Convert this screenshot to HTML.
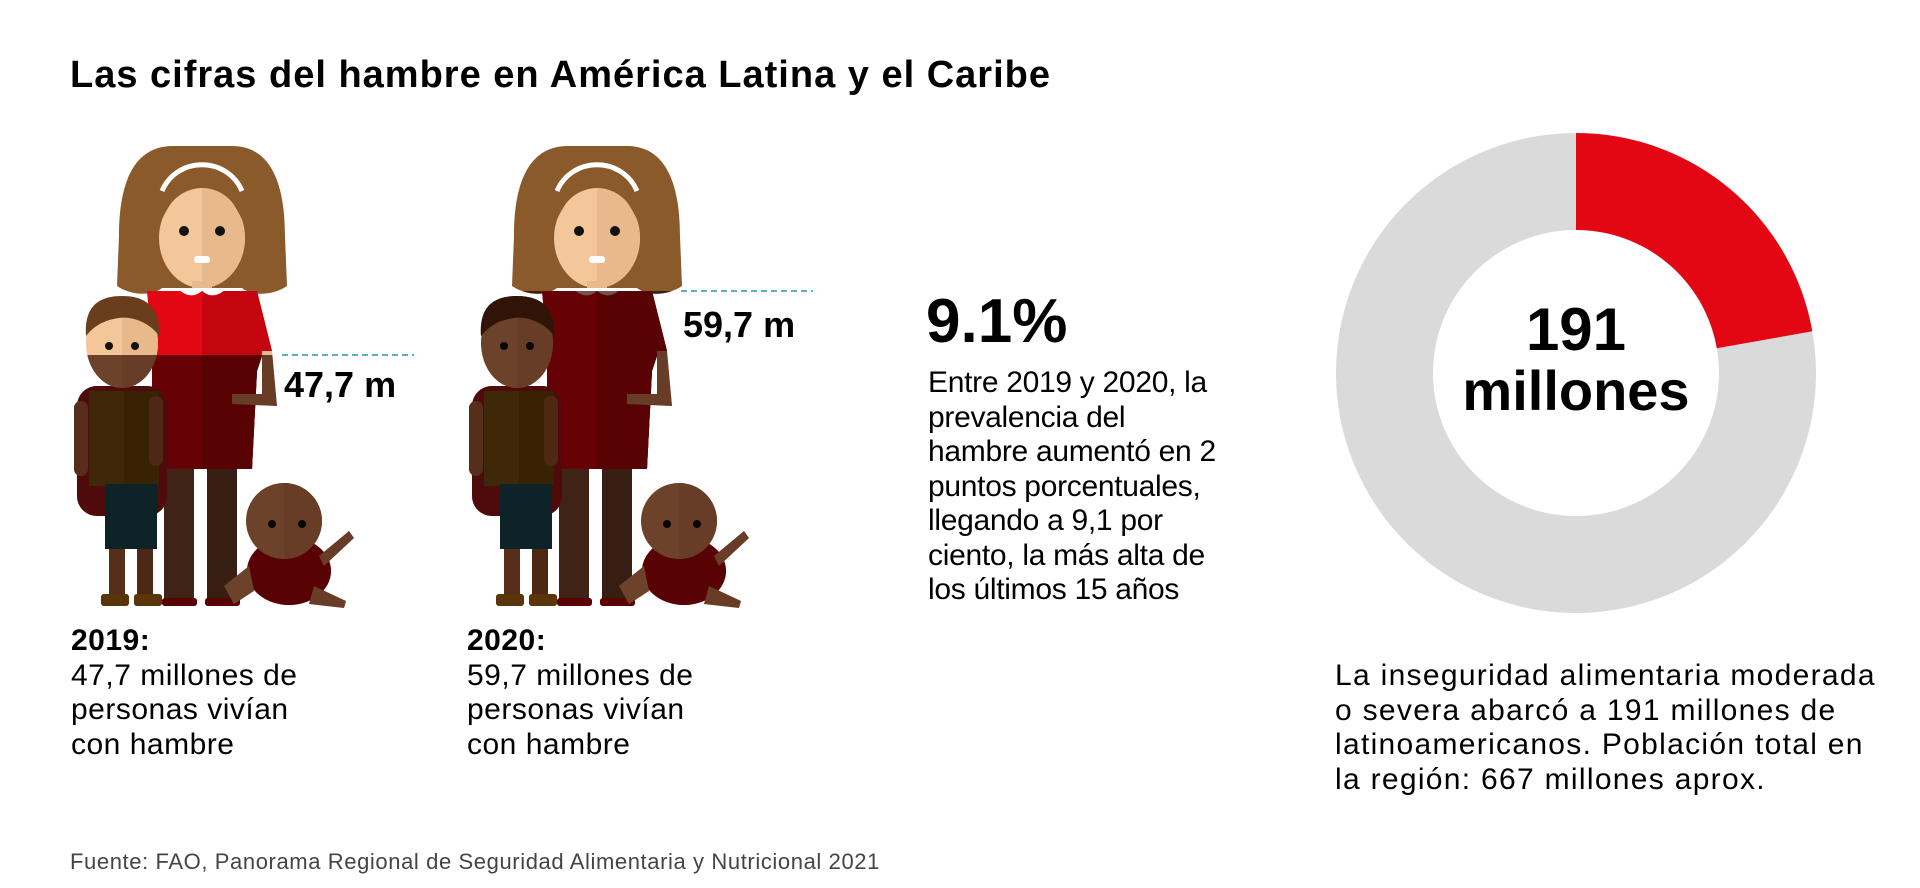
<!DOCTYPE html>
<html><head><meta charset="utf-8"><style>
html,body{margin:0;padding:0;background:#fff;}
body{width:1920px;height:888px;position:relative;overflow:hidden;font-family:"Liberation Sans",sans-serif;color:#000;}
.t{position:absolute;white-space:nowrap;}
.p{font-size:30px;line-height:34.5px;}
</style></head><body>
<div class="t" style="left:70px;top:54px;font-size:38px;font-weight:bold;letter-spacing:1px;">Las cifras del hambre en América Latina y el Caribe</div>

<svg width="1920" height="888" style="position:absolute;left:0;top:0">
<defs>
<g id="fig">
 <path d="M51,0 C10,0 -3,40 -3,90 L-5,140 C10,150 30,150 40,142 L120,142 C130,150 150,150 165,140 L163,90 C163,40 150,0 110,0 Z" fill="#8a5a2b"/>
 <ellipse cx="80" cy="92" rx="43" ry="50" fill="#f3c79a"/>
 <path d="M80,42 A43,50 0 0 1 80,142 Z" fill="#e8b98a"/>
 <path d="M37,80 C40,30 60,15 80,15 C100,15 120,30 123,80 C110,50 95,35 80,35 C65,35 50,50 37,80Z" fill="#8a5a2b"/>
 <path d="M40,45 C55,10 105,10 120,45" stroke="#fff" stroke-width="5" fill="none"/>
 <circle cx="62" cy="85" r="5" fill="#111"/><circle cx="98" cy="85" r="5" fill="#111"/>
 <rect x="72" y="110" width="16" height="7" rx="3" fill="#fff"/>
 <rect x="70" y="135" width="20" height="10" fill="#e8b98a"/>
 <path d="M25,145 L135,145 L150,205 L140,210 L135,225 L130,323 L30,323 L30,200 Z" fill="#e30613"/>
 <path d="M80,145 L135,145 L150,205 L140,210 L135,225 L130,323 L80,323 Z" fill="#c4050f"/>
 <path d="M55,142 Q68,155 80,145 Q92,155 105,142" fill="#fff"/>
 <path d="M140,205 L150,205 L155,260 L110,258 L110,248 L140,248 Z" fill="#e8b98a"/>
 <rect x="42" y="323" width="30" height="135" fill="#8a6a50"/>
 <rect x="85" y="323" width="30" height="135" fill="#7a5c44"/>
 <rect x="40" y="452" width="35" height="8" rx="3" fill="#c4050f"/>
 <rect x="83" y="452" width="35" height="8" rx="3" fill="#c4050f"/>
 <g transform="translate(-43,0)">
 <rect x="-2" y="240" width="90" height="130" rx="20" fill="#b0202a"/>
 <rect x="10" y="245" width="70" height="95" fill="#8a7a18"/>
 <rect x="45" y="245" width="35" height="95" fill="#7a6a10"/>
 <rect x="-5" y="255" width="14" height="75" rx="7" fill="#c08a5a"/>
 <rect x="70" y="250" width="14" height="70" rx="7" fill="#b07a4a"/>
 <rect x="26" y="338" width="52" height="65" fill="#1f6a8a"/>
 <rect x="30" y="403" width="16" height="50" fill="#c08a5a"/>
 <rect x="58" y="403" width="16" height="50" fill="#b07a4a"/>
 <rect x="22" y="448" width="28" height="12" rx="3" fill="#c9a020"/>
 <rect x="55" y="448" width="28" height="12" rx="3" fill="#c9a020"/>
 <ellipse cx="43" cy="197" rx="36" ry="45" fill="#f3c79a"/>
 <path d="M43,152 A36,45 0 0 1 43,242 Z" fill="#e8b98a"/>
 <path d="M7,190 C5,160 20,150 43,150 C70,150 82,165 80,190 C70,175 50,170 40,172 C25,174 15,180 7,190Z" fill="#6a3e1c"/>
 <circle cx="30" cy="200" r="4" fill="#111"/><circle cx="56" cy="200" r="4" fill="#111"/>
 </g>
 <g transform="translate(-48,0)">
 <ellipse cx="215" cy="425" rx="42" ry="34" fill="#c4050f"/>
 <circle cx="210" cy="375" r="38" fill="#f3c79a"/>
 <path d="M210,337 A38,38 0 0 1 210,413 Z" fill="#e8b98a"/>
 <circle cx="198" cy="378" r="4" fill="#111"/><circle cx="228" cy="378" r="4" fill="#111"/>
 <path d="M245,410 L275,385 L280,392 L250,420Z" fill="#e8b98a"/>
 <path d="M175,420 L150,440 L160,458 L180,445Z" fill="#f3c79a"/>
 <path d="M240,440 L272,455 L270,462 L235,458Z" fill="#e8b98a"/>
 </g>
</g>
<filter id="dark" color-interpolation-filters="sRGB"><feColorMatrix type="matrix" values="0.45 0 0 0 0  0 0.33 0 0 0  0 0 0.28 0 0  0 0 0 1 0"/></filter>
<clipPath id="b1"><rect x="0" y="355" width="700" height="400"/></clipPath>
<clipPath id="b2"><rect x="0" y="291" width="900" height="400"/></clipPath>
</defs>
<g transform="translate(122,146)"><use href="#fig"/></g>
<g clip-path="url(#b1)"><g transform="translate(122,146)" filter="url(#dark)"><use href="#fig"/></g></g>
<g transform="translate(517,146)"><use href="#fig"/></g>
<g clip-path="url(#b2)"><g transform="translate(517,146)" filter="url(#dark)"><use href="#fig"/></g></g>
<line x1="282" y1="355" x2="414" y2="355" stroke="#5ab0c0" stroke-width="2" stroke-dasharray="6,4"/>
<line x1="681" y1="291" x2="813" y2="291" stroke="#5ab0c0" stroke-width="2" stroke-dasharray="6,4"/>
<circle cx="1576" cy="373" r="191.5" fill="none" stroke="#dadada" stroke-width="97"/>
<path d="M1576,133 A240,240 0 0 1 1812.3,331.3 L1716.8,348.2 A143,143 0 0 0 1576,230 Z" fill="#e30613"/>
<text x="1576" y="350" text-anchor="middle" font-family="Liberation Sans" font-weight="bold" font-size="60">191</text>
<text x="1576" y="410" text-anchor="middle" font-family="Liberation Sans" font-weight="bold" font-size="56">millones</text>
</svg>

<div class="t" style="left:284px;top:364px;font-size:36px;font-weight:bold;">47,7 m</div>
<div class="t" style="left:683px;top:304px;font-size:36px;font-weight:bold;">59,7 m</div>
<div class="t" style="left:926px;top:286px;font-size:62px;font-weight:bold;">9.1%</div>
<div class="t p" style="left:928px;top:366px;letter-spacing:-0.3px;">Entre 2019 y 2020, la<br>prevalencia del<br>hambre aumentó en 2<br>puntos porcentuales,<br>llegando a 9,1 por<br>ciento, la más alta de<br>los últimos 15 años</div>
<div class="t p" style="left:71px;top:624px;letter-spacing:0.5px;"><b>2019:</b><br>47,7 millones de<br>personas vivían<br>con hambre</div>
<div class="t p" style="left:467px;top:624px;letter-spacing:0.5px;"><b>2020:</b><br>59,7 millones de<br>personas vivían<br>con hambre</div>
<div class="t p" style="left:1335px;top:659px;letter-spacing:1.3px;">La inseguridad alimentaria moderada<br>o severa abarcó a 191 millones de<br>latinoamericanos. Población total en<br>la región: 667 millones aprox.</div>
<div class="t" style="left:70px;top:849px;font-size:22px;color:#444;letter-spacing:0.6px;">Fuente: FAO, Panorama Regional de Seguridad Alimentaria y Nutricional 2021</div>
</body></html>
